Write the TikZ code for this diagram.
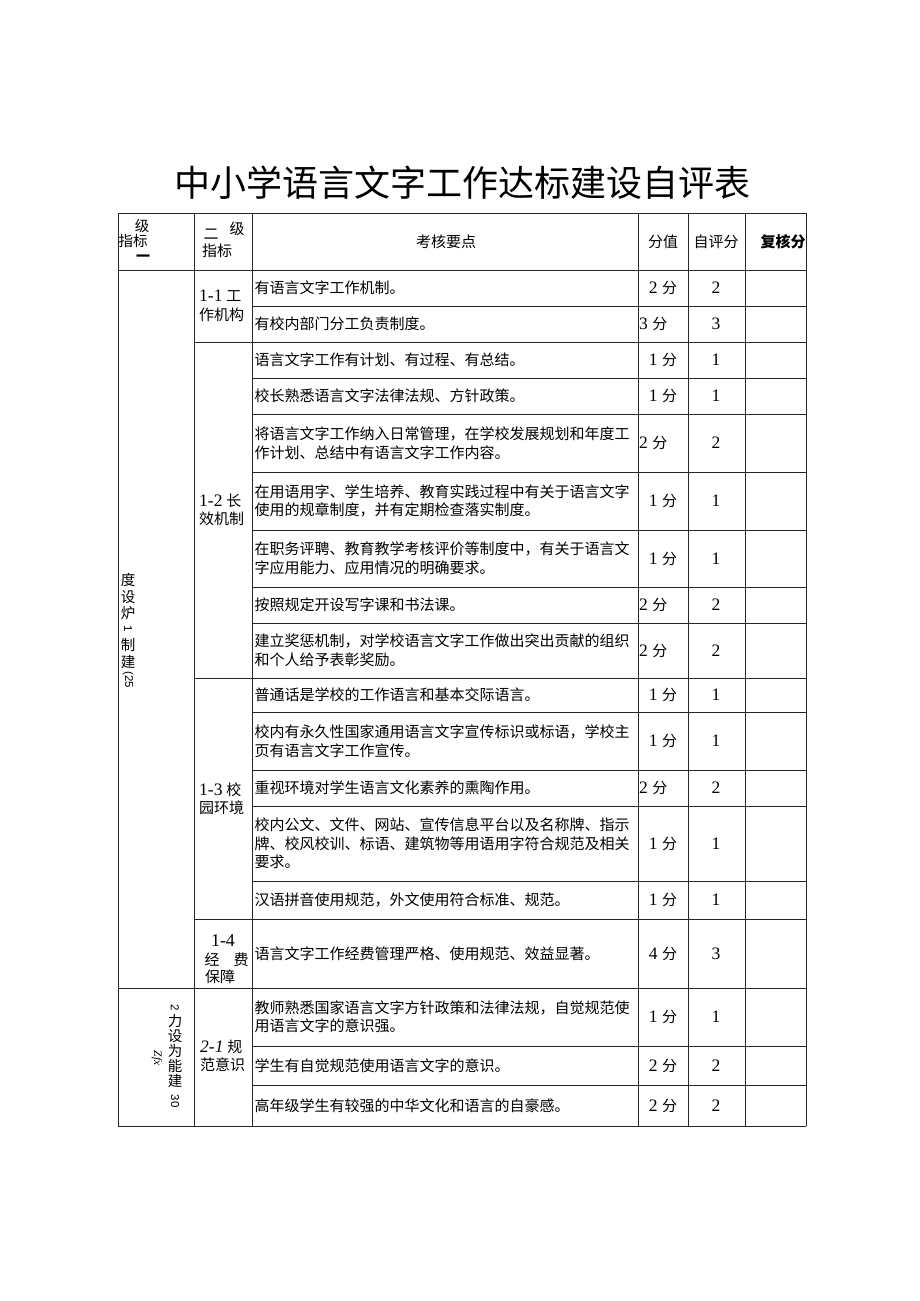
\documentclass[tikz,border=0pt]{standalone}
\usepackage{fontspec}
\setmainfont{Liberation Serif}
\newfontfamily\cjk{Noto Sans CJK SC}
\newfontfamily\lsans{Liberation Sans}
\newcommand\Rw[6]{%
  \node[body] (t#1) at (254.5,#2) {#3};
  \node[#6] (s#1) at (663,#2) {#4 {\cjk\fontsize{15}{18}\selectfont 分}};
  \node[num] (e#1) at (716,#2) {#5};
}
\newcommand\Dg[1]{{\fontsize{17.5}{18.5}\selectfont #1}}
\begin{document}
\begin{tikzpicture}[x=1pt,y=-1pt,
  grid/.style={line width=0.8pt, draw=black!85},
  body/.style={anchor=west, inner sep=0pt, align=left, font=\fontsize{15}{18.5}\selectfont\cjk},
  num/.style={inner sep=0pt, font=\fontsize{17.5}{18}\selectfont},
  sc/.style={num},
  sl/.style={num, anchor=west, xshift=-24pt},
  hd/.style={inner sep=0pt, font=\fontsize{15}{18}\selectfont\cjk},
  lab/.style={anchor=west, inner sep=0pt, align=left, font=\fontsize{15}{18.5}\selectfont},
  vch/.style={inner sep=0pt, font=\fontsize{14.5}{14.5}\selectfont\cjk},
  vnum/.style={inner sep=0pt, rotate=-90, font=\fontsize{11.5}{11.5}\selectfont\lsans}
]
\useasboundingbox (0,0) rectangle (920,1301);
\fill[white] (0,0) rectangle (920,1301);

% title
\node[inner sep=0pt, font=\fontsize{36}{40}\selectfont\cjk] (title) at (462,183) {中小学语言文字工作达标建设自评表};

% vertical rules
\foreach \x in {118,194,252,638,688,745,806} \draw[grid] (\x,213) -- (\x,1126);
% full-width rules
\foreach \y in {213,270,988,1126} \draw[grid] (118,\y) -- (806,\y);
% from column 2
\foreach \y in {342,678,919} \draw[grid] (194,\y) -- (806,\y);
% from column 3
\foreach \y in {306,378,414,472,530,587,623,712,770,806,881,1046,1085} \draw[grid] (252,\y) -- (806,\y);

% header
\node[inner sep=0pt, font=\fontsize{14.5}{14}\selectfont\cjk] (h1a) at (142,225.5) {级};
\node[inner sep=0pt, font=\fontsize{14.5}{14}\selectfont\cjk] (h1b) at (133,241) {指标};
\node[inner sep=0pt, font=\fontsize{14}{14}\selectfont\cjk\bfseries] (h1c) at (143,258.5) {一};
\node[hd] (h2a) at (211,234) {二};
\node[hd] (h2b) at (237,229) {级};
\node[hd] (h2c) at (217,251) {指标};
\node[hd] (h3) at (446,242) {考核要点};
\node[hd] (h4) at (663,242) {分值};
\node[hd] (h5) at (716,242) {自评分};
\node[hd, font=\fontsize{15}{18}\selectfont\cjk\bfseries] (h6) at (783,242) {复核分};

% first-level labels (vertical)
\node[vch] (va1) at (128,580) {度};
\node[vch] (va2) at (128,597) {设};
\node[vch] (va3) at (128,613) {炉};
\node[vnum] (va4) at (128,629) {1};
\node[vch] (va5) at (128,645) {制};
\node[vch] (va6) at (128,662) {建};
\node[vnum] (va7) at (128,680) {(25};

\node[vnum] (vb1) at (175,1008) {2};
\node[vch] (vb2) at (175,1021) {力};
\node[vch] (vb3) at (175,1036) {设};
\node[vch] (vb4) at (175,1051) {为};
\node[vch] (vb5) at (175,1066) {能};
\node[vch] (vb6) at (175,1081) {建};
\node[vnum] (vb7) at (175,1101) {30};
\node[inner sep=0pt, rotate=-90, font=\fontsize{11.5}{11.5}\selectfont\itshape] (vbz) at (157,1058) {Zfx};

% second-level labels
\node[lab] (g11) at (199,306) {\Dg{1-1} {\cjk 工}\\{\cjk 作机构}};
\node[lab] (g12) at (199,510) {\Dg{1-2} {\cjk 长}\\{\cjk 效机制}};
\node[lab] (g13) at (199,799) {\Dg{1-3} {\cjk 校}\\{\cjk 园环境}};
\node[inner sep=0pt, font=\fontsize{18}{18}\selectfont] (g14a) at (223,941) {1-4};
\node[hd] (g14b) at (212,960) {经};
\node[hd] (g14c) at (241,960) {费};
\node[hd, anchor=west] (g14d) at (205,977) {保障};
\node[lab] (g21) at (200,1056) {\Dg{\textit{2-1}} {\cjk 规}\\{\cjk 范意识}};

% rows
\Rw{1}{288}{有语言文字工作机制。}{2}{2}{sc}
\Rw{2}{324}{有校内部门分工负责制度。}{3}{3}{sl}
\Rw{3}{360}{语言文字工作有计划、有过程、有总结。}{1}{1}{sc}
\Rw{4}{396}{校长熟悉语言文字法律法规、方针政策。}{1}{1}{sc}
\Rw{5}{443}{将语言文字工作纳入日常管理，在学校发展规划和年度工\\作计划、总结中有语言文字工作内容。}{2}{2}{sl}
\Rw{6}{501}{在用语用字、学生培养、教育实践过程中有关于语言文字\\使用的规章制度，并有定期检查落实制度。}{1}{1}{sc}
\Rw{7}{558.5}{在职务评聘、教育教学考核评价等制度中，有关于语言文\\字应用能力、应用情况的明确要求。}{1}{1}{sc}
\Rw{8}{605}{按照规定开设写字课和书法课。}{2}{2}{sl}
\Rw{9}{650.5}{建立奖惩机制，对学校语言文字工作做出突出贡献的组织\\和个人给予表彰奖励。}{2}{2}{sl}
\Rw{10}{695}{普通话是学校的工作语言和基本交际语言。}{1}{1}{sc}
\Rw{11}{741}{校内有永久性国家通用语言文字宣传标识或标语，学校主\\页有语言文字工作宣传。}{1}{1}{sc}
\Rw{12}{788}{重视环境对学生语言文化素养的熏陶作用。}{2}{2}{sl}
\Rw{13}{843.5}{校内公文、文件、网站、宣传信息平台以及名称牌、指示\\牌、校风校训、标语、建筑物等用语用字符合规范及相关\\要求。}{1}{1}{sc}
\Rw{14}{900}{汉语拼音使用规范，外文使用符合标准、规范。}{1}{1}{sc}
\Rw{15}{953.5}{语言文字工作经费管理严格、使用规范、效益显著。}{4}{3}{sc}
\Rw{16}{1017}{教师熟悉国家语言文字方针政策和法律法规，自觉规范使\\用语言文字的意识强。}{1}{1}{sc}
\Rw{17}{1065.5}{学生有自觉规范使用语言文字的意识。}{2}{2}{sc}
\Rw{18}{1105.5}{高年级学生有较强的中华文化和语言的自豪感。}{2}{2}{sc}
\end{tikzpicture}
\end{document}
